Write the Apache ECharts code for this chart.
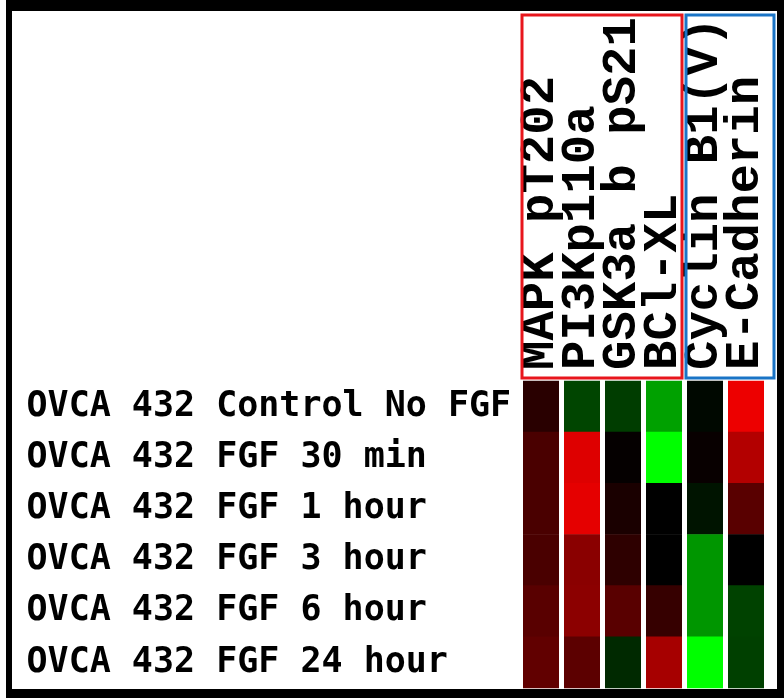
<!DOCTYPE html>
<html>
<head>
<meta charset="utf-8">
<script src="https://cdn.jsdelivr.net/npm/echarts@6/dist/echarts.min.js"></script>
<style>
  html, body { margin: 0; padding: 0; background: #fff; }
  #chart { width: 784px; height: 698px; }
</style>
</head>
<body>
<div id="chart"></div>
<script>
// ---- data ----
var columns = ['MAPK pT202', 'PI3Kp110a', 'GSK3a b pS21', 'BCl-XL', 'Cyclin B1(V)', 'E-Cadherin'];
var rows = [
  'OVCA 432 Control No FGF',
  'OVCA 432 FGF 30 min',
  'OVCA 432 FGF 1 hour',
  'OVCA 432 FGF 3 hour',
  'OVCA 432 FGF 6 hour',
  'OVCA 432 FGF 24 hour'
];
// values per column (top row to bottom row); + = red, - = green
var mapk    = [0.16, 0.29, 0.29, 0.29, 0.35, 0.38];
var pi3k    = [-0.27, 0.87, 0.90, 0.54, 0.55, 0.36];
var gsk3    = [-0.24, 0.02, 0.10, 0.18, 0.35, -0.16];
var bclxl   = [-0.63, -1.00, 0.00, 0.00, 0.21, 0.65];
var cyclin  = [-0.03, 0.03, -0.08, -0.59, -0.59, -1.00];
var ecad    = [0.93, 0.70, 0.35, 0.00, -0.26, -0.25];
var columnValues = [mapk, pi3k, gsk3, bclxl, cyclin, ecad];

var cells = [];
columnValues.forEach(function (vals, ci) {
  vals.forEach(function (v, ri) { cells.push([ci, ri, v]); });
});

var GAP = 5;

var chart = echarts.init(document.getElementById('chart'));
chart.setOption({
  backgroundColor: '#ffffff',
  animation: false,
  grid: { left: 520.5, right: 17.5, top: 381, bottom: 10 },
  xAxis: {
    type: 'category',
    position: 'top',
    data: columns,
    axisLine: { show: false },
    axisTick: { show: false },
    splitLine: { show: false },
    axisLabel: {
      rotate: -90,
      interval: 0,
      margin: 11,
      fontFamily: 'Liberation Mono',
      fontWeight: 'bold',
      fontSize: 49,
      color: '#000'
    }
  },
  yAxis: {
    type: 'category',
    inverse: true,
    data: rows,
    axisLine: { show: false },
    axisTick: { show: false },
    splitLine: { show: false },
    axisLabel: {
      interval: 0,
      align: 'left',
      margin: 494,
      fontFamily: 'DejaVu Sans Mono',
      fontWeight: 'bold',
      fontSize: 35,
      color: '#000'
    }
  },
  visualMap: {
    show: false,
    type: 'continuous',
    dimension: 2,
    min: -1,
    max: 1,
    inRange: { color: ['#00ff00', '#000000', '#ff0000'] }
  },
  series: [{
    type: 'custom',
    encode: { x: 0, y: 1 },
    data: cells,
    renderItem: function (params, api) {
      var c = api.coord([api.value(0), api.value(1)]);
      var s = api.size([1, 1]);
      var w = s[0] - GAP;
      return {
        type: 'rect',
        shape: { x: c[0] - w / 2, y: c[1] - s[1] / 2 - 0.3, width: w, height: s[1] + 0.6 },
        style: { fill: api.visual('color') }
      };
    }
  }],
  graphic: [
    { type: 'rect', z: 100, shape: { x: 522, y: 15, width: 160, height: 363 },
      style: { fill: 'none', stroke: '#e8161c', lineWidth: 3 } },
    { type: 'rect', z: 100, shape: { x: 686, y: 15, width: 88, height: 363 },
      style: { fill: 'none', stroke: '#1a74c6', lineWidth: 3 } },
    { type: 'rect', z: 110, shape: { x: 6, y: 0, width: 778, height: 11 }, style: { fill: '#000' } },
    { type: 'rect', z: 110, shape: { x: 6, y: 0, width: 6, height: 698 }, style: { fill: '#000' } },
    { type: 'rect', z: 110, shape: { x: 777, y: 0, width: 7, height: 698 }, style: { fill: '#000' } },
    { type: 'rect', z: 110, shape: { x: 6, y: 689, width: 778, height: 9 }, style: { fill: '#000' } }
  ]
});
</script>
</body>
</html>
